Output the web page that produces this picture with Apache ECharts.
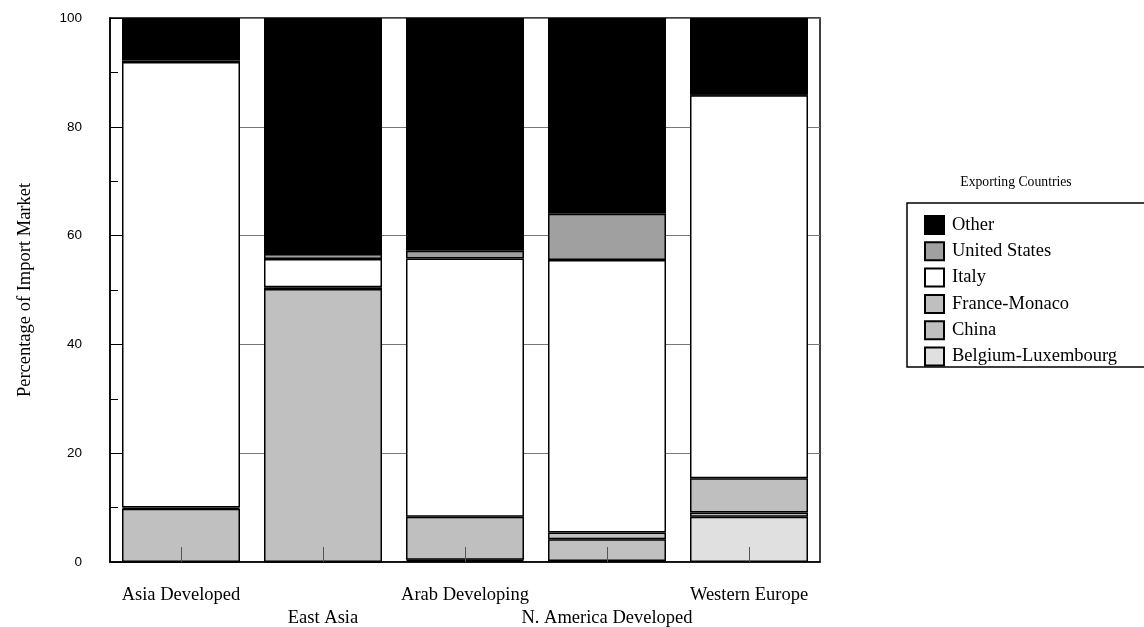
<!DOCTYPE html>
<html>
<head>
<meta charset="utf-8">
<script src="https://cdn.jsdelivr.net/npm/echarts@6/dist/echarts.min.js"></script>
<style>html,body{margin:0;padding:0;background:#fff}#c{width:1144px;height:627px}</style>
</head>
<body>
<div id="c"></div>
<script>
const categories = ['Asia Developed', 'East Asia', 'Arab Developing', 'N. America Developed', 'Western Europe'];
const belgiumLux   = [0.0, 0.0, 0.2, 0.2, 8.3];
const china        = [9.8, 50.2, 0.2, 4.0, 0.8];
const franceMonaco = [0.2, 0.3, 7.9, 1.2, 6.3];
const italy        = [81.9, 5.2, 47.5, 50.1, 70.4];
const unitedStates = [0.3, 0.9, 1.4, 8.5, 0.1];
const other        = [7.8, 43.4, 42.8, 36.0, 14.1];
const yTicks = [0, 20, 40, 60, 80, 100];
const legendOrder = ['Other', 'United States', 'Italy', 'France-Monaco', 'China', 'Belgium-Luxembourg'];

const serif = '"Liberation Serif", "DejaVu Serif", serif';
const sans = '"Liberation Sans", Arial, sans-serif';

function mk(name, data, color) {
  return {
    name: name, type: 'bar', stack: 'total', data: data,
    barWidth: 118,
    itemStyle: { color: color, borderColor: '#000', borderWidth: 1.5 },
    emphasis: { disabled: true }
  };
}

const chart = echarts.init(document.getElementById('c'));
chart.setOption({
  animation: false,
  backgroundColor: '#fff',
  grid: { left: 110, right: 324, top: 18, bottom: 65, containLabel: false, outerBoundsMode: 'none', show: true, borderColor: '#000', borderWidth: 1.5, backgroundColor: 'transparent' },
  xAxis: {
    type: 'category', data: categories, z: 10,
    axisLine: { show: true, lineStyle: { color: '#000', width: 1.5 } },
    axisTick: { show: true, inside: true, alignWithLabel: true, length: 15, lineStyle: { color: '#555', width: 1 } },
    axisLabel: {
      interval: 0, margin: 22, color: '#000', fontFamily: serif, fontSize: 18.5, lineHeight: 23,
      formatter: function (v, i) { return i % 2 ? '\n' + v : v; }
    }
  },
  yAxis: {
    type: 'value', min: yTicks[0], max: yTicks[yTicks.length - 1], interval: 20,
    name: 'Percentage of Import Market', nameLocation: 'middle', nameGap: 75,
    nameTextStyle: { fontFamily: serif, fontSize: 18.5, color: '#000' },
    axisLine: { show: true, lineStyle: { color: '#000', width: 1.5 } },
    axisTick: { show: true, inside: true, length: 14, lineStyle: { color: '#000' } },
    minorTick: { show: true, splitNumber: 2, length: 8, lineStyle: { color: '#000' } },
    splitLine: { show: true, lineStyle: { color: '#777', width: 1 } },
    axisLabel: { color: '#000', fontFamily: sans, fontSize: 13.5, margin: 28 }
  },
  legend: {
    orient: 'vertical', left: 924, top: 215, padding: 0,
    data: legendOrder, icon: 'rect', itemWidth: 19, itemHeight: 18, itemGap: 6.3,
    textStyle: { fontFamily: serif, fontSize: 18.5, color: '#000', padding: [0, 0, 0, 3] },
    selectedMode: false
  },
  graphic: [
    { type: 'rect', shape: { x: 907, y: 203, width: 245, height: 164 }, style: { fill: 'none', stroke: '#000', lineWidth: 1.5 } },
    { type: 'text', x: 1016, y: 182, style: { text: 'Exporting Countries', font: '13.7px ' + serif, fill: '#000', textAlign: 'center', textVerticalAlign: 'middle' } }
  ],
  series: [
    mk('Belgium-Luxembourg', belgiumLux, '#e0e0e0'),
    mk('China', china, '#c0c0c0'),
    mk('France-Monaco', franceMonaco, '#bfbfbf'),
    mk('Italy', italy, '#ffffff'),
    mk('United States', unitedStates, '#a0a0a0'),
    mk('Other', other, '#000000')
  ]
});
</script>
</body>
</html>
